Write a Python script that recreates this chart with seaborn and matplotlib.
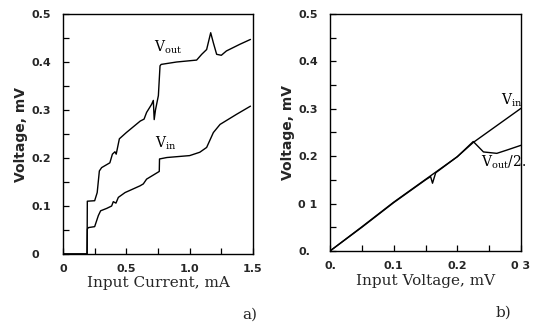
import numpy as np
import pandas as pd
import matplotlib
matplotlib.use("Agg")
import matplotlib.pyplot as plt
import seaborn as sns
from matplotlib.ticker import MultipleLocator, FixedLocator

# ---- Panel a) data: voltage vs input current ----
a_vout_x = [0.0, 0.19, 0.192, 0.25, 0.27, 0.287, 0.305, 0.37, 0.39, 0.41, 0.42, 0.445, 0.50,
            0.61, 0.64, 0.66, 0.70, 0.713, 0.72, 0.73, 0.753, 0.766, 0.775, 0.897, 1.055,
            1.095, 1.134, 1.166, 1.187, 1.213, 1.25, 1.29, 1.397, 1.48]
a_vout_y = [0.0, 0.0, 0.110, 0.111, 0.128, 0.173, 0.180, 0.190, 0.208, 0.213, 0.208, 0.240, 0.253,
            0.277, 0.281, 0.295, 0.312, 0.320, 0.280, 0.300, 0.330, 0.392, 0.395, 0.400, 0.404,
            0.416, 0.426, 0.461, 0.440, 0.416, 0.414, 0.423, 0.437, 0.447]
a_vin_x = [0.0, 0.19, 0.192, 0.20, 0.25, 0.279, 0.297, 0.345, 0.384, 0.397, 0.418, 0.437, 0.49,
           0.608, 0.634, 0.66, 0.76, 0.762, 0.82, 1.0, 1.08, 1.134, 1.187, 1.24, 1.37, 1.48]
a_vin_y = [0.0, 0.0, 0.052, 0.055, 0.057, 0.080, 0.090, 0.095, 0.100, 0.109, 0.106, 0.118, 0.128,
           0.142, 0.146, 0.156, 0.172, 0.198, 0.201, 0.205, 0.212, 0.222, 0.253, 0.270, 0.291, 0.308]

# ---- Panel b) data: voltage vs input voltage ----
b_vin_x = [0.0, 0.05, 0.10, 0.15, 0.20, 0.225, 0.25, 0.275, 0.30]
b_vin_y = [0.0, 0.051, 0.103, 0.151, 0.199, 0.229, 0.253, 0.277, 0.301]
b_vout_x = [0.0, 0.05, 0.10, 0.15, 0.158, 0.161, 0.166, 0.20, 0.225, 0.241, 0.262, 0.278, 0.30]
b_vout_y = [0.0, 0.050, 0.102, 0.150, 0.157, 0.143, 0.165, 0.199, 0.231, 0.209, 0.206, 0.213, 0.223]

a_xticks = [0, 0.5, 1.0, 1.5]
a_xticklabels = ["0", "0.5", "1.0", "1.5"]
a_yticks = [0, 0.1, 0.2, 0.3, 0.4, 0.5]
a_yticklabels = ["0", "0.1", "0.2", "0.3", "0.4", "0.5"]
b_xticks = [0, 0.1, 0.2, 0.3]
b_xticklabels = ["0.", "0.1", "0.2", "0 3"]
b_yticks = [0, 0.1, 0.2, 0.3, 0.4, 0.5]
b_yticklabels = ["0.", "0 1", "0.2", "0.3", "0.4", "0.5"]

sns.set_style("ticks")
plt.rcParams["font.family"] = ["DejaVu Sans"]
plt.rcParams["mathtext.fontset"] = "custom"
plt.rcParams["mathtext.rm"] = "DejaVu Serif"

fig = plt.figure(figsize=(5.33, 3.27), dpi=100)
ax1 = fig.add_axes([63/533, 1-254/327, 190/533, 240/327])
ax2 = fig.add_axes([330/533, 1-251/327, 191/533, 237/327])

lw = 1.0
df_a1 = pd.DataFrame({"x": a_vout_x, "y": a_vout_y})
df_a2 = pd.DataFrame({"x": a_vin_x, "y": a_vin_y})
sns.lineplot(data=df_a1, x="x", y="y", ax=ax1, color="black", lw=lw, sort=False, estimator=None)
sns.lineplot(data=df_a2, x="x", y="y", ax=ax1, color="black", lw=lw, sort=False, estimator=None)

df_b1 = pd.DataFrame({"x": b_vin_x, "y": b_vin_y})
df_b2 = pd.DataFrame({"x": b_vout_x, "y": b_vout_y})
sns.lineplot(data=df_b1, x="x", y="y", ax=ax2, color="black", lw=lw, sort=False, estimator=None)
sns.lineplot(data=df_b2, x="x", y="y", ax=ax2, color="black", lw=lw, sort=False, estimator=None)

tickfont = dict(fontsize=8, fontweight="bold", family="DejaVu Sans")
serif = "DejaVu Serif"

def style(ax, xlim, xticks, xlabels, xminor, yticks, ylabels, xlabel):
    ax.set_xlim(*xlim)
    ax.set_ylim(0, 0.5)
    ax.xaxis.set_major_locator(FixedLocator(xticks))
    ax.yaxis.set_major_locator(FixedLocator(yticks))
    ax.xaxis.set_minor_locator(MultipleLocator(xminor))
    ax.yaxis.set_minor_locator(MultipleLocator(0.05))
    ax.set_xticklabels(xlabels, **tickfont)
    ax.set_yticklabels(ylabels, **tickfont, ha="left")
    ax.tick_params(which="both", direction="in", length=4, width=0.9, color="black",
                   top=False, right=False)
    ax.tick_params(axis="y", which="major", pad=23)
    ax.tick_params(axis="x", which="major", pad=7)
    for s in ax.spines.values():
        s.set_linewidth(1.0)
        s.set_color("black")
        s.set_visible(True)
    ax.set_xlabel(xlabel, fontsize=11, family=serif, labelpad=2)
    ax.set_ylabel("Voltage, mV", fontsize=10, fontweight="bold", family="DejaVu Sans", labelpad=2)

style(ax1, (0, 1.5), a_xticks, a_xticklabels, 0.25, a_yticks, a_yticklabels, "Input Current, mA")
style(ax2, (0, 0.3), b_xticks, b_xticklabels, 0.05, b_yticks, b_yticklabels, "Input Voltage, mV")

lab = dict(fontsize=10, ha="center", va="center", color="black")
ax1.text(0.83, 0.43, r"$\mathrm{V_{out}}$", **lab)
ax1.text(0.81, 0.23, r"$\mathrm{V_{in}}$", **lab)
ax2.text(0.286, 0.318, r"$\mathrm{V_{in}}$", **lab)
ax2.text(0.272, 0.187, r"$\mathrm{V_{out}/2.}$", **lab)

fig.text(250/533, 1-315/327, "a)", fontsize=11, family=serif, ha="center", va="center")
fig.text(503/533, 1-313/327, "b)", fontsize=11, family=serif, ha="center", va="center")

fig.savefig("out.png", dpi=100)
